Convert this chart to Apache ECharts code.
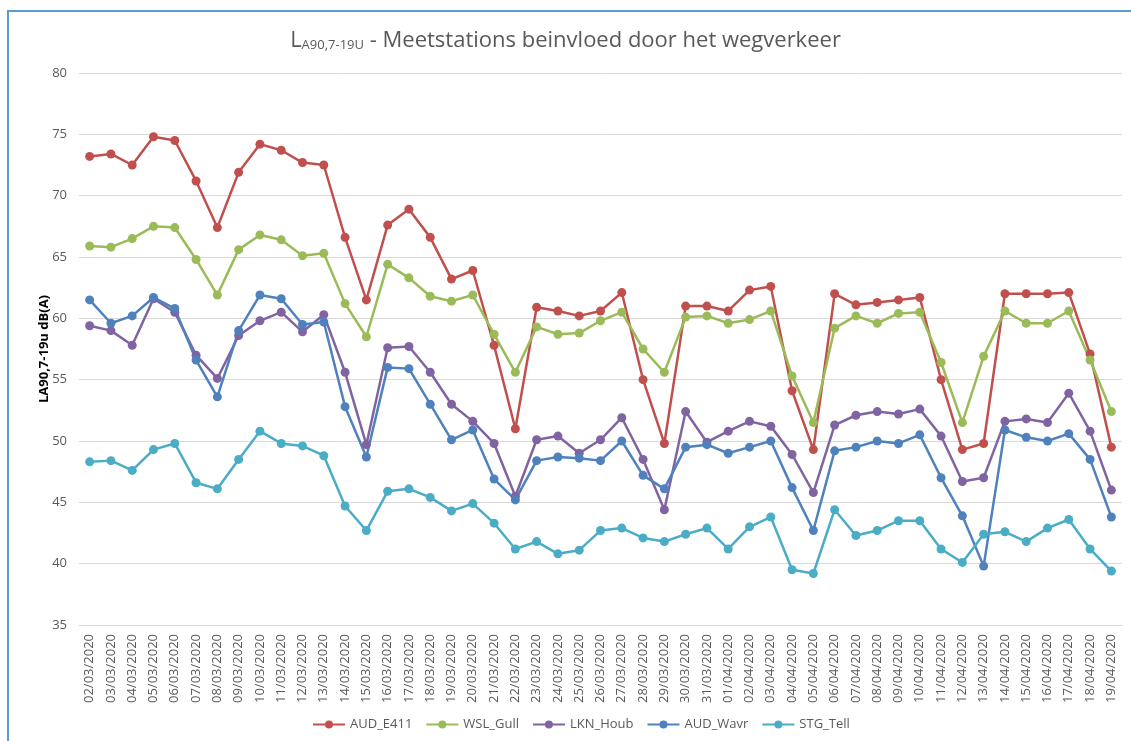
<!DOCTYPE html>
<html>
<head>
<meta charset="utf-8">
<script src="https://cdn.jsdelivr.net/npm/echarts@6/dist/echarts.min.js"></script>
<style>
  html, body { margin: 0; padding: 0; background: #fff; }
  #frame { position: absolute; left: 7px; top: 10px; width: 1140px; height: 760px;
           border-left: 2px solid #5b9bd5; border-top: 2px solid #5b9bd5; }
  #myChart { position: absolute; left: 0; top: 0; width: 1131px; height: 741px; }
</style>
</head>
<body>
<div id="frame"></div>
<div id="myChart"></div>
<script>
  // dagen
  var dates = ['02/03/2020', '03/03/2020', '04/03/2020', '05/03/2020', '06/03/2020', '07/03/2020', '08/03/2020',
    '09/03/2020', '10/03/2020', '11/03/2020', '12/03/2020', '13/03/2020', '14/03/2020', '15/03/2020',
    '16/03/2020', '17/03/2020', '18/03/2020', '19/03/2020', '20/03/2020', '21/03/2020', '22/03/2020',
    '23/03/2020', '24/03/2020', '25/03/2020', '26/03/2020', '27/03/2020', '28/03/2020', '29/03/2020',
    '30/03/2020', '31/03/2020', '01/04/2020', '02/04/2020', '03/04/2020', '04/04/2020', '05/04/2020',
    '06/04/2020', '07/04/2020', '08/04/2020', '09/04/2020', '10/04/2020', '11/04/2020', '12/04/2020',
    '13/04/2020', '14/04/2020', '15/04/2020', '16/04/2020', '17/04/2020', '18/04/2020', '19/04/2020'];

  var audE411 = [73.2, 73.4, 72.5, 74.8, 74.5, 71.2, 67.4, 71.9, 74.2, 73.7, 72.7, 72.5, 66.6, 61.5,
    67.6, 68.9, 66.6, 63.2, 63.9, 57.8, 51.0, 60.9, 60.6, 60.2, 60.6, 62.1, 55.0, 49.8,
    61.0, 61.0, 60.6, 62.3, 62.6, 54.1, 49.3, 62.0, 61.1, 61.3, 61.5, 61.7, 55.0, 49.3,
    49.8, 62.0, 62.0, 62.0, 62.1, 57.1, 49.5];
  var wslGull = [65.9, 65.8, 66.5, 67.5, 67.4, 64.8, 61.9, 65.6, 66.8, 66.4, 65.1, 65.3, 61.2, 58.5,
    64.4, 63.3, 61.8, 61.4, 61.9, 58.7, 55.6, 59.3, 58.7, 58.8, 59.8, 60.5, 57.5, 55.6,
    60.1, 60.2, 59.6, 59.9, 60.6, 55.3, 51.5, 59.2, 60.2, 59.6, 60.4, 60.5, 56.4, 51.5,
    56.9, 60.6, 59.6, 59.6, 60.6, 56.6, 52.4];
  var lknHoub = [59.4, 59.0, 57.8, 61.6, 60.5, 57.0, 55.1, 58.6, 59.8, 60.5, 58.9, 60.3, 55.6, 49.7,
    57.6, 57.7, 55.6, 53.0, 51.6, 49.8, 45.5, 50.1, 50.4, 49.0, 50.1, 51.9, 48.5, 44.4,
    52.4, 49.9, 50.8, 51.6, 51.2, 48.9, 45.8, 51.3, 52.1, 52.4, 52.2, 52.6, 50.4, 46.7,
    47.0, 51.6, 51.8, 51.5, 53.9, 50.8, 46.0];
  var audWavr = [61.5, 59.6, 60.2, 61.7, 60.8, 56.6, 53.6, 59.0, 61.9, 61.6, 59.5, 59.7, 52.8, 48.7,
    56.0, 55.9, 53.0, 50.1, 50.9, 46.9, 45.2, 48.4, 48.7, 48.6, 48.4, 50.0, 47.2, 46.1,
    49.5, 49.7, 49.0, 49.5, 50.0, 46.2, 42.7, 49.2, 49.5, 50.0, 49.8, 50.5, 47.0, 43.9,
    39.8, 50.9, 50.3, 50.0, 50.6, 48.5, 43.8];
  var stgTell = [48.3, 48.4, 47.6, 49.3, 49.8, 46.6, 46.1, 48.5, 50.8, 49.8, 49.6, 48.8, 44.7, 42.7,
    45.9, 46.1, 45.4, 44.3, 44.9, 43.3, 41.2, 41.8, 40.8, 41.1, 42.7, 42.9, 42.1, 41.8,
    42.4, 42.9, 41.2, 43.0, 43.8, 39.5, 39.2, 44.4, 42.3, 42.7, 43.5, 43.5, 41.2, 40.1,
    42.4, 42.6, 41.8, 42.9, 43.6, 41.2, 39.4];

  var seriesNames = ['AUD_E411', 'WSL_Gull', 'LKN_Houb', 'AUD_Wavr', 'STG_Tell'];
  var seriesColors = ['#c0504d', '#9bbb59', '#8064a2', '#4f81bd', '#4bacc6'];
  var seriesData = [audE411, wslGull, lknHoub, audWavr, stgTell];

  var txt = '#595959';
  var font = 'Open Sans';

  let myChart = echarts.init(document.getElementById('myChart'));

  myChart.setOption({
    animation: false,
    color: seriesColors,
    textStyle: { fontFamily: font },
    title: {
      text: '{l|L}{s|A90,7-19U}{m| - Meetstations beinvloed door het wegverkeer}',
      left: 'center',
      top: 24,
      textStyle: {
        fontWeight: 'normal',
        rich: {
          l: { fontSize: 22, color: txt, fontFamily: font, fontWeight: 'normal' },
          s: { fontSize: 13, color: txt, fontFamily: font, fontWeight: 'normal', padding: [10, 0, 0, 0] },
          m: { fontSize: 22, color: txt, fontFamily: font, fontWeight: 'normal' }
        }
      }
    },
    legend: {
      bottom: 5,
      left: 307,
      itemWidth: 32,
      itemHeight: 10,
      itemGap: 13,
      textStyle: { color: txt, fontSize: 13, fontFamily: font },
      data: seriesNames
    },
    grid: {
      left: 79,
      right: 9,
      top: 73,
      bottom: 116
    },
    xAxis: {
      type: 'category',
      boundaryGap: true,
      data: dates,
      axisLine: { lineStyle: { color: '#d9d9d9' } },
      axisTick: { show: false },
      axisLabel: {
        rotate: 90,
        interval: 0,
        color: txt,
        fontSize: 13,
        fontFamily: font,
        margin: 9
      }
    },
    yAxis: {
      type: 'value',
      min: 35,
      max: 80,
      interval: 5,
      name: 'LA90,7-19u dB(A)',
      nameLocation: 'middle',
      nameGap: 28,
      nameMoveOverlap: false,
      nameTextStyle: { color: '#000', fontWeight: 'bold', fontSize: 13, fontFamily: font },
      axisLine: { show: false },
      axisTick: { show: false },
      axisLabel: { color: txt, fontSize: 13, fontFamily: font, margin: 12 },
      splitLine: { lineStyle: { color: '#d9d9d9' } }
    },
    series: seriesNames.map(function (name, i) {
      return {
        name: name,
        type: 'line',
        data: seriesData[i],
        symbol: 'circle',
        symbolSize: 9,
        lineStyle: { width: 2.5 },
        itemStyle: { color: seriesColors[i] }
      };
    })
  });
</script>
</body>
</html>
